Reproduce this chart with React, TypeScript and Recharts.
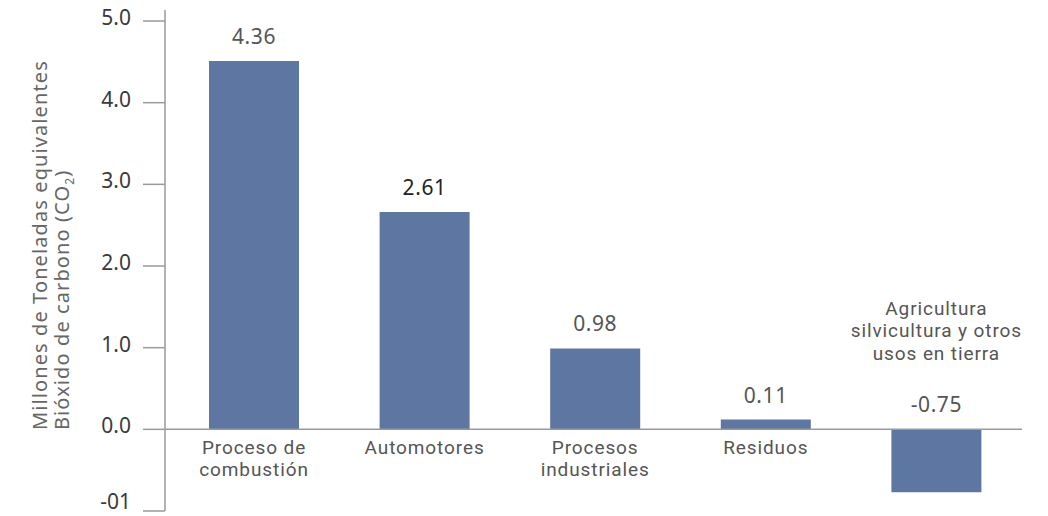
import React from 'react';
import { Bar, BarChart, LabelList, ReferenceLine, XAxis, YAxis } from 'recharts';

const categories = [
  'Proceso de\ncombustión',
  'Automotores',
  'Procesos\nindustriales',
  'Residuos',
  'Agricultura\nsilvicultura y otros\nusos en tierra'
];
const barValues = [4.51, 2.66, 0.99, 0.12, -0.77];
const valueLabels = ['4.36', '2.61', '0.98', '0.11', '-0.75'];
const yTicks = [-1, 0, 1, 2, 3, 4, 5];
const yTickLabels = ['-01', '0.0', '1.0', '2.0', '3.0', '4.0', '5.0'];

const data = categories.map((name, i) => ({ name, value: barValues[i], label: valueLabels[i] }));

const FONT = '"Noto Sans", sans-serif';
const LABEL_FONT = 'Roboto, "Noto Sans", sans-serif';
const AXIS_GRAY = '#9a9a9a';
const BAR_COLOR = '#5e76a2';
const TEXT_GRAY = '#555';

function BarLabels(props: any) {
  const { x, y, width, height, index } = props;
  const value = barValues[index];
  const top = Math.min(y, y + height);
  const bottom = Math.max(y, y + height);
  const zero = value >= 0 ? bottom : top;
  const cx = x + width / 2;
  const lines = categories[index].split('\n');
  const catY = value >= 0 ? zero + 18 : zero - 121;
  return (
    <g>
      <text
        x={cx}
        y={top - 25}
        textAnchor="middle"
        dominantBaseline="central"
        fontSize={21}
        letterSpacing={0.6}
        fill={index === 1 ? '#222' : TEXT_GRAY}
      >
        {valueLabels[index]}
      </text>
      {lines.map((line, li) => (
        <text
          key={li}
          x={cx}
          y={catY + li * 22.5}
          textAnchor="middle"
          dominantBaseline="central"
          fontFamily={LABEL_FONT}
          fontSize={19}
          letterSpacing={0.9}
          fill={TEXT_GRAY}
        >
          {line}
        </text>
      ))}
    </g>
  );
}

function YTick(props: any) {
  const { x, y, payload } = props;
  const shift = payload.value === -1 ? -10 : -4;
  return (
    <text x={x} y={y + shift} textAnchor="end" dominantBaseline="central" fontSize={21} fill="#3a3a3a">
      {yTickLabels[yTicks.indexOf(payload.value)]}
    </text>
  );
}

function YTitle() {
  return (
    <g fill="#666" fontSize={20} letterSpacing={1.1}>
      <text transform="translate(47, 430) rotate(-90)" textAnchor="start">
        Millones de Toneladas equivalentes
      </text>
      <text transform="translate(69, 430) rotate(-90)" textAnchor="start">
        Bióxido de carbono (CO
        <tspan fontSize={12} dy={5}>2</tspan>
        <tspan dy={-5}>)</tspan>
      </text>
    </g>
  );
}

export default function App() {
  return (
    <div style={{ position: 'absolute', left: 0, top: 0, width: 1048, height: 516, background: '#fff', fontFamily: FONT }}>
      <BarChart width={1048} height={516} data={data} margin={{ top: 10, right: 26, bottom: 5, left: 0 }}>
        <XAxis dataKey="name" hide padding={{ left: 4, right: 0 }} />
        <YAxis
          type="number"
          domain={[-1, 5.135]}
          ticks={yTicks}
          interval={0}
          width={165}
          tickSize={22}
          tickMargin={12}
          tick={<YTick />}
          axisLine={{ stroke: AXIS_GRAY, strokeWidth: 1.5 }}
          tickLine={{ stroke: AXIS_GRAY, strokeWidth: 1.5 }}
          label={{ content: () => <YTitle /> }}
        />
        <ReferenceLine y={0} stroke={AXIS_GRAY} strokeWidth={1.5} />
        <Bar dataKey="value" fill={BAR_COLOR} barSize={90} isAnimationActive={false}>
          <LabelList dataKey="label" content={(p: any) => <BarLabels {...p} />} />
        </Bar>
      </BarChart>
    </div>
  );
}
